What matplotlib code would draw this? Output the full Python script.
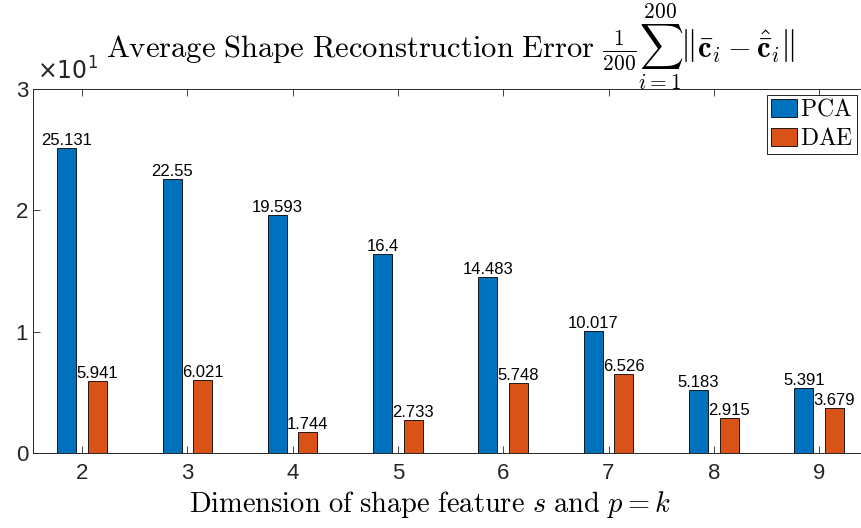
import numpy as np
import matplotlib
matplotlib.use("Agg")
from matplotlib import pyplot as plt
from matplotlib.transforms import IdentityTransform

dims = [2, 3, 4, 5, 6, 7, 8, 9]
pca = [25.131, 22.55, 19.593, 16.4, 14.483, 10.017, 5.183, 5.391]
dae = [5.941, 6.021, 1.744, 2.733, 5.748, 6.526, 2.915, 3.679]
pca_labels = ["25.131", "22.55", "19.593", "16.4", "14.483", "10.017", "5.183", "5.391"]
dae_labels = ["5.941", "6.021", "1.744", "2.733", "5.748", "6.526", "2.915", "3.679"]

plt.rcParams["mathtext.fontset"] = "cm"
plt.rcParams["font.family"] = "Liberation Sans"

W, H = 862, 528
fig = plt.figure(figsize=(W / 100, H / 100), dpi=100)
# axes box in pixels (right edge runs just off the picture, as in the reference)
left, right, top, bottom = 33, 868, 89, 453
ax = fig.add_axes([left / W, 1 - bottom / H, (right - left) / W, (bottom - top) / H])

x = np.array(dims, dtype=float)
w = 0.18
off = 0.145
ax.bar(x - off, pca, w, color="#0072BD", edgecolor="black", linewidth=0.6,
       label=r"$\mathrm{PCA}$")
ax.bar(x + off, dae, w, color="#D95319", edgecolor="black", linewidth=0.6,
       label=r"$\mathrm{DAE}$")

for xi, v, s in zip(x - off, pca, pca_labels):
    ax.text(xi, v, s, ha="center", va="bottom", fontsize=12)
for xi, v, s in zip(x + off, dae, dae_labels):
    ax.text(xi, v, s, ha="center", va="bottom", fontsize=12)

ax.set_xlim(2 - (82 - left) / 105.3, 2 + (right - 82) / 105.3)
ax.set_ylim(0, 30)
ax.set_xticks(dims)
ax.set_yticks([0, 10, 20, 30])
ax.set_yticklabels(["0", "1", "2", "3"])
ax.tick_params(axis="both", direction="in", labelsize=16, top=True, right=True,
               length=5, width=0.6, colors="#262626")
ax.tick_params(axis="x", pad=7)
for sp in ax.spines.values():
    sp.set_linewidth(0.7)
    sp.set_color("#262626")
ax.text(0.005, 1.012, r"$\times 10^1$", transform=ax.transAxes, ha="left", va="bottom",
        fontsize=17, math_fontfamily="dejavusans", color="#262626")

ax.set_title(r"$\mathrm{Average\ Shape\ Reconstruction\ Error}\ \frac{1}{200}\sum_{i=1}^{200}"
             r"\left\|\bar{\mathbf{c}}_i-\hat{\bar{\mathbf{c}}}_i\right\|$",
             fontsize=22, pad=22)
ax.set_xlabel(r"$\mathrm{Dimension\ of\ shape\ feature}\ s\ \mathrm{and}\ p=k$", fontsize=20.5)
ax.xaxis.set_label_coords((430 - left) / (right - left), (bottom - 489) / (bottom - top))
ax.xaxis.label.set_va("top")

leg = ax.legend(loc="upper right", bbox_to_anchor=(857, H - 95),
                bbox_transform=IdentityTransform(),
                prop={"size": 17}, fancybox=False, edgecolor="black", framealpha=1,
                handlelength=1.1, handleheight=0.8, handletextpad=0.15, borderpad=0.15,
                labelspacing=0.3, borderaxespad=0.0)
leg.get_frame().set_linewidth(0.6)

fig.savefig("out.png", dpi=100)
